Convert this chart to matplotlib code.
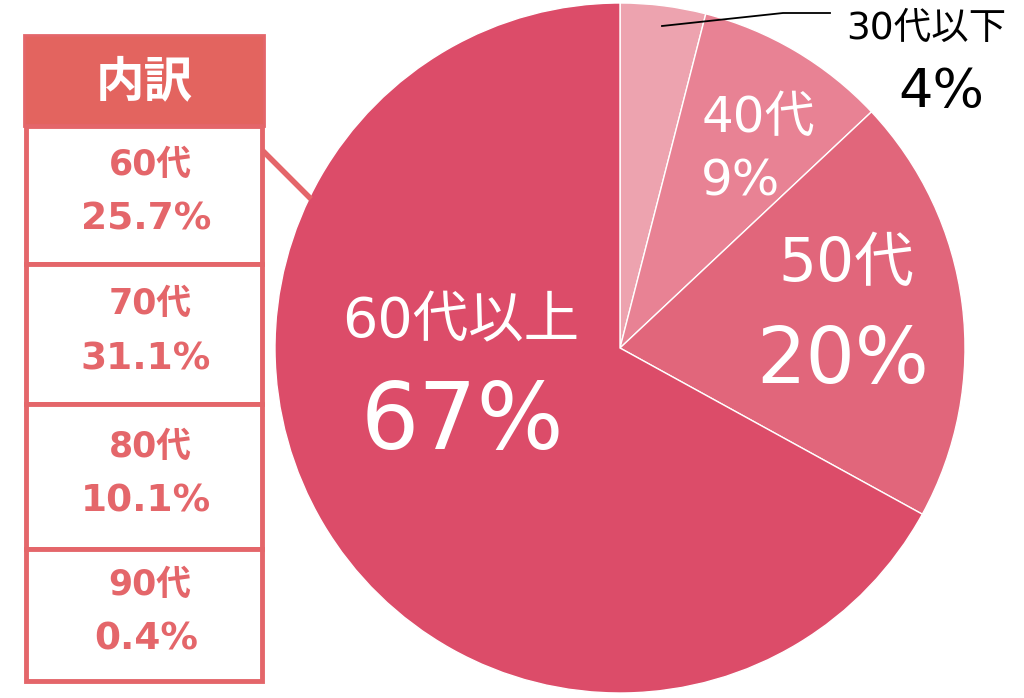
import matplotlib.pyplot as plt
from matplotlib.patches import Rectangle

# 数字は DejaVu (Meiryo に近い), 漢字は Noto
plt.rcParams['font.family'] = ['DejaVu Sans', 'Noto Sans CJK JP']

# 年代別の割合
age_labels = ['30代以下', '40代', '50代', '60代以上']
age_shares = [4, 9, 20, 67]
age_colors = ['#EDA3AF', '#E88294', '#E1667B', '#DC4C69']

# 60代以上の内訳
sub_labels = ['60代', '70代', '80代', '90代']
sub_shares = [25.7, 31.1, 10.1, 0.4]

coral = '#E4666A'
H = 698

fig = plt.figure(figsize=(10.24, 6.98), dpi=100)
ax = fig.add_axes([0, 0, 1, 1])

cx, cy, r = 620, H - 348, 345
ax.pie(age_shares, colors=age_colors, startangle=90, counterclock=False,
       center=(cx, cy), radius=r, frame=True,
       wedgeprops=dict(edgecolor='white', linewidth=1))
ax.set_xlim(0, 1024)
ax.set_ylim(0, H)
ax.set_aspect('equal')
ax.axis('off')

# ラベル (pie内)
ax.text(461, H - 322, age_labels[3], color='white', fontsize=40, ha='center', va='center')
ax.text(462, H - 423, f'{age_shares[3]}%', color='white', fontsize=66, ha='center', va='center')
ax.text(846, H - 264, age_labels[2], color='white', fontsize=43, ha='center', va='center')
ax.text(843, H - 361, f'{age_shares[2]}%', color='white', fontsize=56, ha='center', va='center')
ax.text(758, H - 118, age_labels[1], color='white', fontsize=36, ha='center', va='center')
ax.text(740, H - 182, f'{age_shares[1]}%', color='white', fontsize=36, ha='center', va='center')

# 30代以下 (外側)
ax.plot([662, 783, 830], [H - 26, H - 13, H - 13], color='black', lw=1.3)
ax.text(926, H - 29, age_labels[0], color='black', fontsize=27, ha='center', va='center')
ax.text(941, H - 92, f'{age_shares[0]}%', color='black', fontsize=39, ha='center', va='center')

# 内訳ボックス
left, right = 24, 264
ax.add_patch(Rectangle((left, H - 126), right - left, 91, facecolor='#E3645F',
                       edgecolor=coral, lw=2, zorder=3))
ax.text((left + right) / 2, H - 82, '内訳', color='white', fontsize=35,
        fontweight='bold', ha='center', va='center', zorder=4)

edges = [126, 264, 404, 549, 681]
for i, (lab, val) in enumerate(zip(sub_labels, sub_shares)):
    top, bot = edges[i], edges[i + 1]
    ax.add_patch(Rectangle((left + 2, H - bot), right - left - 4, bot - top,
                           facecolor='white', edgecolor=coral, lw=3.5, zorder=3))
    mid = (top + bot) / 2
    ax.text(150, H - (mid - 30), lab, color=coral, fontsize=25,
            fontweight='bold', ha='center', va='center', zorder=4)
    ax.text(146, H - (mid + 25), f'{val}%', color=coral, fontsize=27,
            fontweight='bold', ha='center', va='center', zorder=4)

# 接続線
ax.plot([264, 309], [H - 152, H - 197], color=coral, lw=4, zorder=2)

fig.savefig('out.png', dpi=100)
